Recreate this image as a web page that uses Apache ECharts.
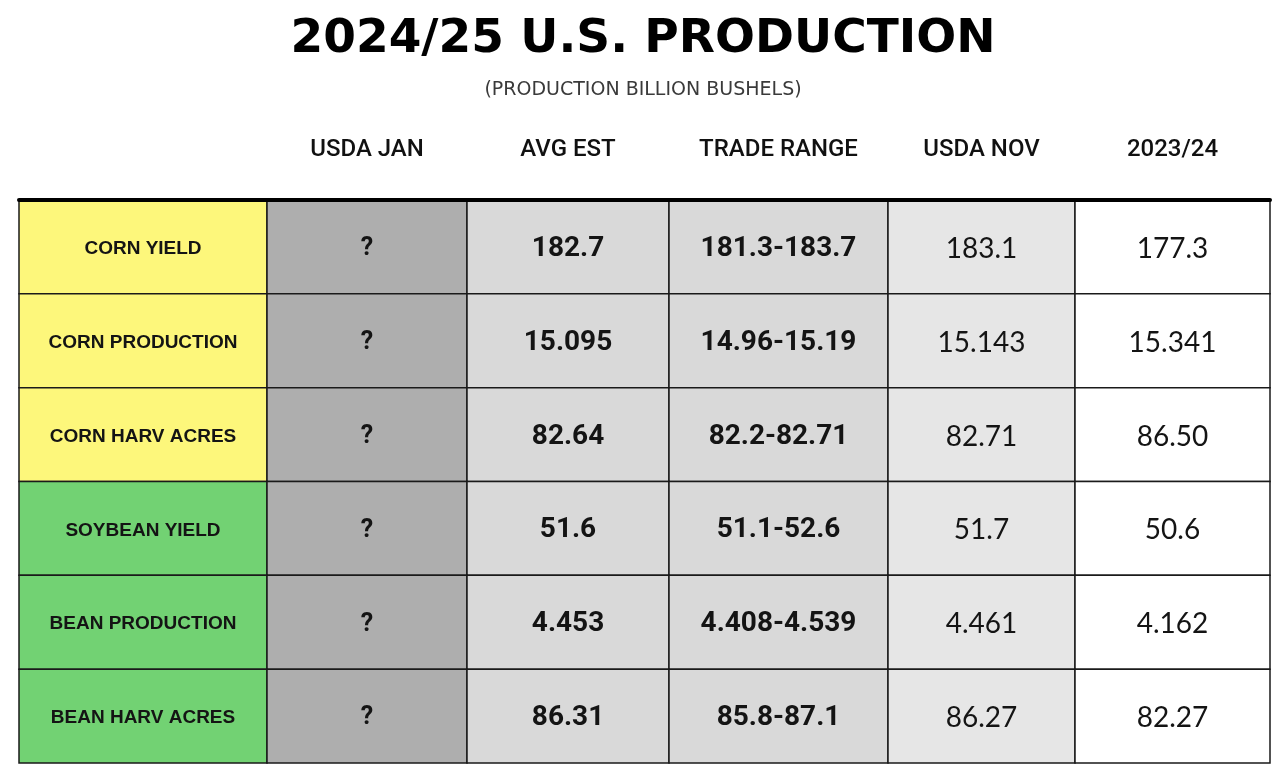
<!DOCTYPE html>
<html>
<head>
<meta charset="utf-8">
<script src="https://cdn.jsdelivr.net/npm/echarts@6/dist/echarts.min.js"></script>
<style>
  html, body { margin: 0; padding: 0; background: #fff; }
  #main { width: 1286px; height: 779px; }
</style>
</head>
<body>
<div id="main"></div>
<script>
var titleText = '2024/25 U.S. PRODUCTION';
var subText = '(PRODUCTION BILLION BUSHELS)';
var columns = ['USDA JAN', 'AVG EST', 'TRADE RANGE', 'USDA NOV', '2023/24'];
var rows = ['CORN YIELD', 'CORN PRODUCTION', 'CORN HARV ACRES', 'SOYBEAN YIELD', 'BEAN PRODUCTION', 'BEAN HARV ACRES'];
var usdaJan = ['?', '?', '?', '?', '?', '?'];
var avgEst = ['182.7', '15.095', '82.64', '51.6', '4.453', '86.31'];
var tradeRange = ['181.3-183.7', '14.96-15.19', '82.2-82.71', '51.1-52.6', '4.408-4.539', '85.8-87.1'];
var usdaNov = ['183.1', '15.143', '82.71', '51.7', '4.461', '86.27'];
var prior = ['177.3', '15.341', '86.50', '50.6', '4.162', '82.27'];

// layout / styles
var colEdges = [0, 248, 448, 650, 869, 1056, 1251];
var labelFill = ['#fdf77b', '#fdf77b', '#fdf77b', '#72d273', '#72d273', '#72d273'];
var colFill = [null, '#aeaeae', '#d9d9d9', '#d9d9d9', '#e6e6e6', '#ffffff'];
var colFont = [
  { fontFamily: 'Liberation Sans', fontWeight: 'bold', fontSize: 19 },
  { fontFamily: 'Roboto', fontWeight: 'bold', fontSize: 25 },
  { fontFamily: 'Roboto', fontWeight: 'bold', fontSize: 28 },
  { fontFamily: 'Roboto', fontWeight: 'bold', fontSize: 28 },
  { fontFamily: 'Lato', fontWeight: 'normal', fontSize: 28 },
  { fontFamily: 'Lato', fontWeight: 'normal', fontSize: 28 }
];

var table = [rows, usdaJan, avgEst, tradeRange, usdaNov, prior];
var cells = [];
rows.forEach(function (r, i) {
  table.forEach(function (col, j) {
    cells.push({ value: [j, i], name: col[i] });
  });
});
var heads = columns.map(function (c, j) {
  return { value: [j + 1, 0], name: c };
});

function cellBox(api, c, r) {
  var p0 = api.coord([colEdges[c], r]);
  var p1 = api.coord([colEdges[c + 1], r]);
  var h = api.size([0, 1])[1];
  return { x: p0[0], y: p0[1] - h / 2, width: p1[0] - p0[0], height: h };
}

var myChart = echarts.init(document.getElementById('main'));
myChart.setOption({
  backgroundColor: '#fff',
  animation: false,
  title: [{
    text: titleText,
    left: 'center',
    top: 11,
    textStyle: { fontFamily: 'DejaVu Sans', fontWeight: 'bold', fontSize: 47, color: '#000' }
  }, {
    text: subText,
    left: 'center',
    top: 76,
    textStyle: { fontFamily: 'DejaVu Sans', fontWeight: 'normal', fontSize: 19, color: '#3a3a3a' }
  }],
  grid: { left: 19, right: 16, top: 200, bottom: 16 },
  xAxis: {
    type: 'value',
    min: 0,
    max: 1251,
    position: 'top',
    z: 10,
    axisLine: { show: true, lineStyle: { color: '#000', width: 4 } },
    axisTick: { show: false },
    axisLabel: { show: false },
    splitLine: { show: false }
  },
  yAxis: {
    type: 'category',
    data: rows,
    inverse: true,
    axisLine: { show: false },
    axisTick: { show: false },
    axisLabel: { show: false },
    splitLine: { show: false }
  },
  series: [{
    type: 'custom',
    name: 'cells',
    data: cells,
    renderItem: function (params, api) {
      var c = api.value(0), r = api.value(1);
      var b = cellBox(api, c, r);
      var f = colFont[c];
      return {
        type: 'group',
        children: [{
          type: 'rect',
          shape: b,
          style: { fill: c === 0 ? labelFill[r] : colFill[c], stroke: '#1a1a1a', lineWidth: 1.5 }
        }, {
          type: 'text',
          style: {
            text: cells[params.dataIndex].name,
            x: b.x + b.width / 2,
            y: b.y + b.height / 2 + 2,
            textAlign: 'center',
            textVerticalAlign: 'middle',
            align: 'center',
            verticalAlign: 'middle',
            fontFamily: f.fontFamily,
            fontWeight: f.fontWeight,
            fontSize: f.fontSize,
            fill: '#141414'
          }
        }]
      };
    }
  }, {
    type: 'custom',
    name: 'headers',
    data: heads,
    renderItem: function (params, api) {
      var c = api.value(0);
      var b = cellBox(api, c, 0);
      return {
        type: 'text',
        style: {
          text: heads[params.dataIndex].name,
          x: b.x + b.width / 2,
          y: b.y - 50,
          textAlign: 'center',
          textVerticalAlign: 'middle',
          align: 'center',
          verticalAlign: 'middle',
          fontFamily: 'Roboto',
          fontWeight: 500,
          fontSize: 24,
          fill: '#111'
        }
      };
    }
  }]
});
</script>
</body>
</html>
